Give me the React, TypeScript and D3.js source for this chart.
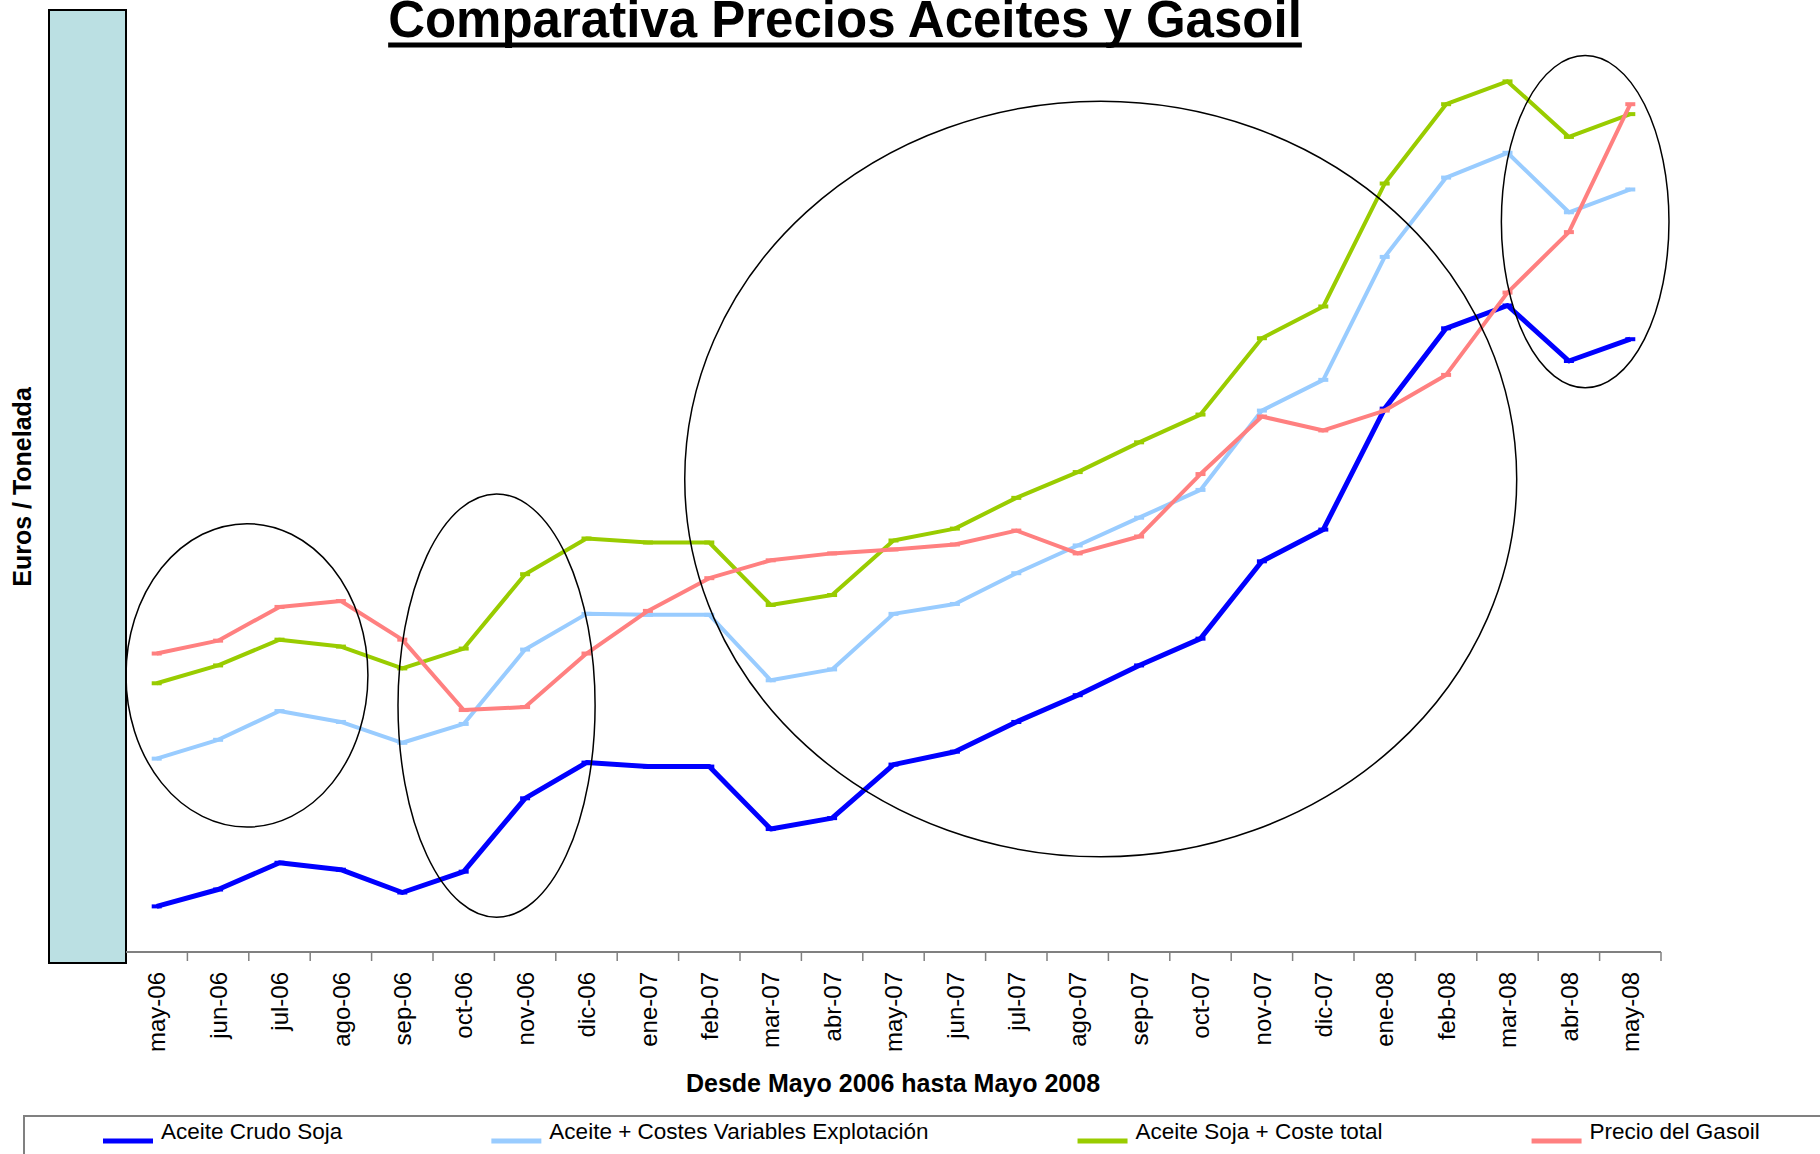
import * as d3 from "d3";
import { useEffect, useRef } from "react";

// meses del eje X
const months = [
  "may-06", "jun-06", "jul-06", "ago-06", "sep-06", "oct-06", "nov-06", "dic-06",
  "ene-07", "feb-07", "mar-07", "abr-07", "may-07", "jun-07", "jul-07", "ago-07",
  "sep-07", "oct-07", "nov-07", "dic-07", "ene-08", "feb-08", "mar-08", "abr-08", "may-08"
];

// Euros / Tonelada
const aceiteCrudoSoja = [446, 463, 490, 483, 460, 481, 555, 591, 587, 587, 524, 535, 589, 602, 632, 659, 689, 716, 794, 826, 948, 1029, 1052, 996, 1018];
const aceiteCostesVariables = [595, 614, 643, 632, 611, 630, 705, 741, 740, 740, 674, 685, 741, 751, 782, 810, 838, 866, 946, 977, 1101, 1181, 1206, 1146, 1169];
const aceiteCosteTotal = [671, 689, 715, 708, 686, 706, 781, 817, 813, 813, 750, 760, 815, 827, 858, 884, 914, 942, 1019, 1051, 1175, 1255, 1278, 1222, 1245];
const precioGasoil = [701, 714, 748, 754, 715, 644, 647, 701, 744, 777, 795, 802, 806, 811, 825, 802, 819, 882, 940, 926, 946, 982, 1065, 1126, 1255];

const seriesNames = ["Aceite Crudo Soja", "Aceite + Costes Variables Explotación", "Aceite Soja + Coste total", "Precio del Gasoil"];
const seriesColors = ["#0000ff", "#99ccff", "#99cc00", "#ff8080"];

// elipses de anotacion: posicion en meses (fraccion) y rango de valores
const zonas = [
  { desde: 0, hasta: 3.94, min: 526, max: 832 },
  { desde: 4.43, hasta: 7.64, min: 435, max: 862 },
  { desde: 9.1, hasta: 22.65, min: 496, max: 1258 },
  { desde: 22.4, hasta: 25.13, min: 969, max: 1304 }
];

const W = 1820;
const H = 1154;

const App = () => {
  const svgRef = useRef<SVGSVGElement | null>(null);

  useEffect(() => {
    const svg = d3.select(svgRef.current);
    svg.selectAll("*").remove();

    const plotLeft = 126;
    const plotRight = 1661;
    const axisY = 952;
    const plotTop = 10;

    const x = d3.scaleBand<string>().domain(months).range([plotLeft, plotRight]).padding(0);
    const y = d3.scaleLinear().domain([400, 1350]).range([axisY, plotTop]);
    const bw = x.bandwidth();
    const xAt = (i: number) => plotLeft + i * bw;

    const font = "Arial, 'Liberation Sans', sans-serif";

    // panel lateral (pared)
    svg.append("rect")
      .attr("x", 49).attr("y", plotTop)
      .attr("width", plotLeft - 49).attr("height", 963 - plotTop)
      .attr("fill", "#bbe0e3")
      .attr("stroke", "#000").attr("stroke-width", 2);

    // titulo
    const title = svg.append("text")
      .attr("x", 845).attr("y", 37)
      .attr("text-anchor", "middle")
      .attr("font-family", font).attr("font-weight", "bold").attr("font-size", 51)
      .text("Comparativa Precios Aceites y Gasoil");
    const tb = (title.node() as SVGTextElement).getBBox();
    svg.append("line")
      .attr("x1", tb.x).attr("x2", tb.x + tb.width)
      .attr("y1", 45).attr("y2", 45)
      .attr("stroke", "#000").attr("stroke-width", 5);

    // eje X
    svg.append("line")
      .attr("x1", plotLeft).attr("x2", plotRight)
      .attr("y1", axisY).attr("y2", axisY)
      .attr("stroke", "#808080").attr("stroke-width", 2);
    svg.append("g").selectAll("line")
      .data(months)
      .enter().append("line")
      .attr("x1", d => (x(d) ?? 0) + bw).attr("x2", d => (x(d) ?? 0) + bw)
      .attr("y1", axisY).attr("y2", axisY + 9)
      .attr("stroke", "#808080").attr("stroke-width", 1.5);
    svg.append("g").selectAll("text")
      .data(months)
      .enter().append("text")
      .attr("transform", d => `translate(${(x(d) ?? 0) + bw / 2},972) rotate(-90)`)
      .attr("dy", "0.36em")
      .attr("text-anchor", "end")
      .attr("font-family", font).attr("font-size", 24)
      .text(d => d);

    svg.append("text")
      .attr("x", 893).attr("y", 1092)
      .attr("text-anchor", "middle")
      .attr("font-family", font).attr("font-weight", "bold").attr("font-size", 25)
      .text("Desde Mayo 2006 hasta Mayo 2008");

    svg.append("text")
      .attr("transform", `translate(22,487) rotate(-90)`)
      .attr("dy", "0.36em")
      .attr("text-anchor", "middle")
      .attr("font-family", font).attr("font-weight", "bold").attr("font-size", 25)
      .text("Euros / Tonelada");

    // series
    const allSeries = [aceiteCrudoSoja, aceiteCostesVariables, aceiteCosteTotal, precioGasoil];
    const line = d3.line<number>()
      .x((_, i) => (x(months[i]) ?? 0) + bw / 2)
      .y(d => y(d));

    allSeries.forEach((values, s) => {
      const sw = s === 0 ? 5 : 4;
      svg.append("path")
        .datum(values)
        .attr("fill", "none")
        .attr("stroke", seriesColors[s])
        .attr("stroke-width", sw)
        .attr("stroke-linejoin", "round")
        .attr("d", line);
      svg.append("g").selectAll("line")
        .data(values)
        .enter().append("line")
        .attr("x1", (_, i) => (x(months[i]) ?? 0) + bw / 2 - 5)
        .attr("x2", (_, i) => (x(months[i]) ?? 0) + bw / 2 + 5)
        .attr("y1", d => y(d)).attr("y2", d => y(d))
        .attr("stroke", seriesColors[s]).attr("stroke-width", 4);
    });

    // elipses
    svg.append("g").selectAll("ellipse")
      .data(zonas)
      .enter().append("ellipse")
      .attr("cx", d => (xAt(d.desde) + xAt(d.hasta)) / 2)
      .attr("cy", d => (y(d.min) + y(d.max)) / 2)
      .attr("rx", d => (xAt(d.hasta) - xAt(d.desde)) / 2)
      .attr("ry", d => (y(d.min) - y(d.max)) / 2)
      .attr("fill", "none")
      .attr("stroke", "#000").attr("stroke-width", 1.5);

    // leyenda
    svg.append("rect")
      .attr("x", 24).attr("y", 1116)
      .attr("width", W).attr("height", 100)
      .attr("fill", "none")
      .attr("stroke", "#808080").attr("stroke-width", 2);

    let lx = 103;
    seriesNames.forEach((name, s) => {
      svg.append("line")
        .attr("x1", lx).attr("x2", lx + 50)
        .attr("y1", 1141).attr("y2", 1141)
        .attr("stroke", seriesColors[s]).attr("stroke-width", 5);
      const t = svg.append("text")
        .attr("x", lx + 58).attr("y", 1139)
        .attr("font-family", font).attr("font-size", 22.5)
        .text(name);
      const len = (t.node() as SVGTextElement).getComputedTextLength();
      lx = lx + 58 + len + 149;
    });
  }, []);

  return (
    <svg
      ref={svgRef}
      width={W}
      height={H}
      style={{ position: "absolute", left: 0, top: 0, background: "#fff" }}
    ></svg>
  );
};

export default App;
